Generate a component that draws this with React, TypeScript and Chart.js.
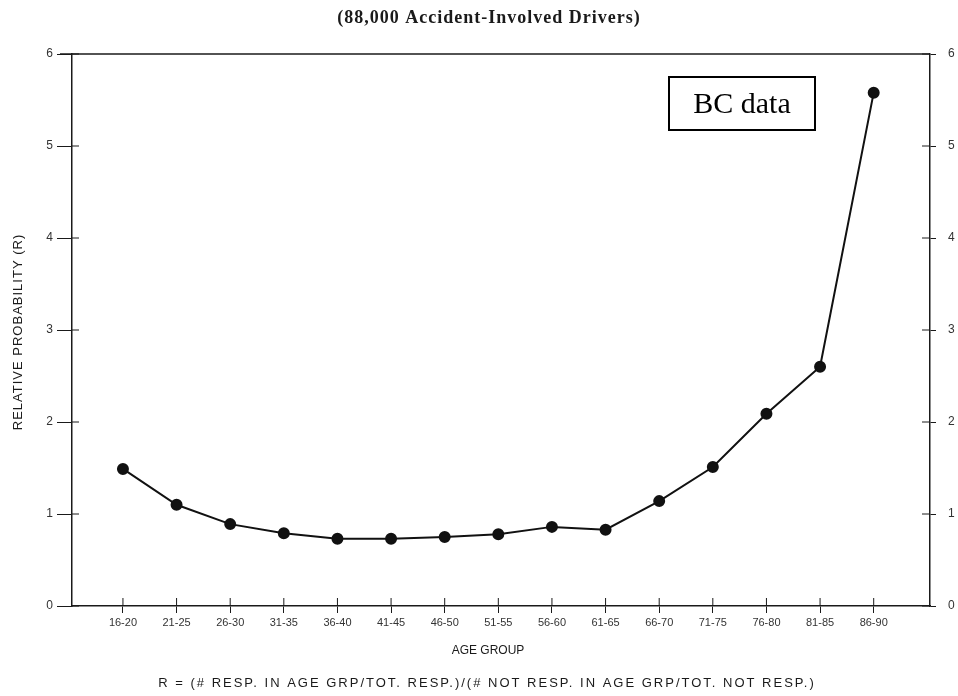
import React, { useEffect, useRef } from "react";
import { Chart, registerables } from "chart.js";

Chart.register(...registerables);

const ageGroups = [
  "16-20", "21-25", "26-30", "31-35", "36-40", "41-45", "46-50", "51-55",
  "56-60", "61-65", "66-70", "71-75", "76-80", "81-85", "86-90",
];
const relativeProbability = [
  1.49, 1.10, 0.89, 0.79, 0.73, 0.73, 0.75, 0.78, 0.86, 0.83, 1.14, 1.51, 2.09, 2.60, 5.58,
];
const yTickValues = [0, 1, 2, 3, 4, 5, 6];
const chartTitle = "(88,000 Accident-Involved Drivers)";
const yAxisTitle = "RELATIVE PROBABILITY (R)";
const xAxisTitle = "AGE GROUP";
const footnote = "R = (# RESP. IN AGE GRP/TOT. RESP.)/(# NOT RESP. IN AGE GRP/TOT. NOT RESP.)";
const legendLabel = "BC data";

const SANS = "'Liberation Sans', Arial, sans-serif";
const SERIF = "'Liberation Serif', 'Times New Roman', serif";
const INK = "#1a1a1a";

const decorPlugin = {
  id: "decor",
  afterDraw(chart: any) {
    const ctx = chart.ctx;
    const { left, right, top, bottom } = chart.chartArea;
    const xs = chart.scales.x;
    const yl = chart.scales.y;
    ctx.save();
    // top border
    ctx.strokeStyle = INK;
    ctx.lineWidth = 1.5;
    ctx.beginPath();
    ctx.moveTo(left - 12, top);
    ctx.lineTo(right, top);
    ctx.stroke();
    // inner tick marks
    ctx.lineWidth = 1;
    ctx.beginPath();
    yl.ticks.forEach((t: any) => {
      const py = yl.getPixelForValue(t.value);
      ctx.moveTo(left, py);
      ctx.lineTo(left + 7, py);
      ctx.moveTo(right - 8, py);
      ctx.lineTo(right, py);
    });
    xs.ticks.forEach((t: any) => {
      const px = xs.getPixelForValue(t.value);
      ctx.moveTo(px, bottom);
      ctx.lineTo(px, bottom - 8);
    });
    ctx.stroke();

    ctx.fillStyle = INK;
    ctx.textAlign = "center";
    ctx.textBaseline = "middle";
    // title
    ctx.font = `bold 18px ${SERIF}`;
    (ctx as any).letterSpacing = "1px";
    ctx.fillText(chartTitle, 489, 18);
    // x axis title & footnote
    ctx.font = `12px ${SANS}`;
    (ctx as any).letterSpacing = "0px";
    ctx.fillText(xAxisTitle, 488, 651);
    ctx.font = `13px ${SANS}`;
    (ctx as any).letterSpacing = "2px";
    ctx.fillText(footnote, 487, 683);
    // y axis title
    ctx.save();
    ctx.translate(18, 332);
    ctx.rotate(-Math.PI / 2);
    ctx.font = `13px ${SANS}`;
    (ctx as any).letterSpacing = "1px";
    ctx.fillText(yAxisTitle, 0, 0);
    ctx.restore();
    (ctx as any).letterSpacing = "0px";
    // legend box
    ctx.lineWidth = 2;
    ctx.strokeStyle = "#000";
    ctx.strokeRect(669, 77, 146, 53);
    ctx.fillStyle = "#000";
    ctx.font = `30px ${SERIF}`;
    ctx.fillText(legendLabel, 742, 105);
    ctx.restore();
  },
};

export default function App() {
  const canvasRef = useRef<HTMLCanvasElement | null>(null);

  useEffect(() => {
    const canvas = canvasRef.current;
    if (!canvas) return;
    const points = relativeProbability.map((v, i) => ({ x: i + 1, y: v }));
    const chart = new Chart(canvas, {
      type: "line",
      data: {
        datasets: [
          {
            label: legendLabel,
            data: points,
            borderColor: "#111",
            backgroundColor: "#111",
            borderWidth: 2,
            pointRadius: 5,
            pointBackgroundColor: "#111",
            pointBorderColor: "#111",
            tension: 0,
          },
        ],
      },
      options: {
        animation: false,
        responsive: true,
        maintainAspectRatio: false,
        layout: { padding: { top: 54, left: 0, right: 0, bottom: 0 } },
        plugins: {
          legend: { display: false },
          tooltip: { enabled: false },
          title: { display: false },
        },
        scales: {
          x: {
            type: "linear",
            position: "bottom",
            min: 0.05,
            max: 16.05,
            afterBuildTicks: (scale: any) => {
              scale.ticks = ageGroups.map((_, i) => ({ value: i + 1 }));
            },
            afterFit: (scale: any) => {
              scale.height = 90;
            },
            ticks: {
              autoSkip: false,
              maxRotation: 0,
              minRotation: 0,
              padding: 3,
              color: "#333",
              font: { family: SANS, size: 11 },
              callback: (v: any) => ageGroups[Math.round(v) - 1] ?? "",
            },
            grid: {
              display: true,
              drawOnChartArea: false,
              drawTicks: true,
              tickLength: 7,
              color: INK,
              lineWidth: 1,
            },
            border: { display: true, color: INK, width: 1.5 },
          },
          y: {
            type: "linear",
            position: "left",
            min: 0,
            max: 6,
            afterBuildTicks: (scale: any) => {
              scale.ticks = yTickValues.map((v) => ({ value: v }));
            },
            afterFit: (scale: any) => {
              scale.width = 72;
            },
            ticks: {
              padding: 4,
              color: "#333",
              font: { family: SANS, size: 12 },
            },
            grid: {
              display: true,
              drawOnChartArea: false,
              drawTicks: true,
              tickLength: 15,
              color: INK,
              lineWidth: 1,
            },
            border: { display: true, color: INK, width: 1.5 },
          },
          y2: {
            type: "linear",
            position: "right",
            min: 0,
            max: 6,
            afterBuildTicks: (scale: any) => {
              scale.ticks = yTickValues.map((v) => ({ value: v }));
            },
            afterFit: (scale: any) => {
              scale.width = 28;
            },
            ticks: {
              padding: 12,
              color: "#333",
              font: { family: SANS, size: 12 },
            },
            grid: {
              display: true,
              drawOnChartArea: false,
              drawTicks: true,
              tickLength: 6,
              color: INK,
              lineWidth: 1,
            },
            border: { display: true, color: INK, width: 1.5 },
          },
        },
      },
      plugins: [decorPlugin],
    });
    return () => chart.destroy();
  }, []);

  return (
    <div style={{ position: "fixed", left: 0, top: 0, width: 958, height: 696, background: "#fff" }}>
      <canvas ref={canvasRef} />
    </div>
  );
}
